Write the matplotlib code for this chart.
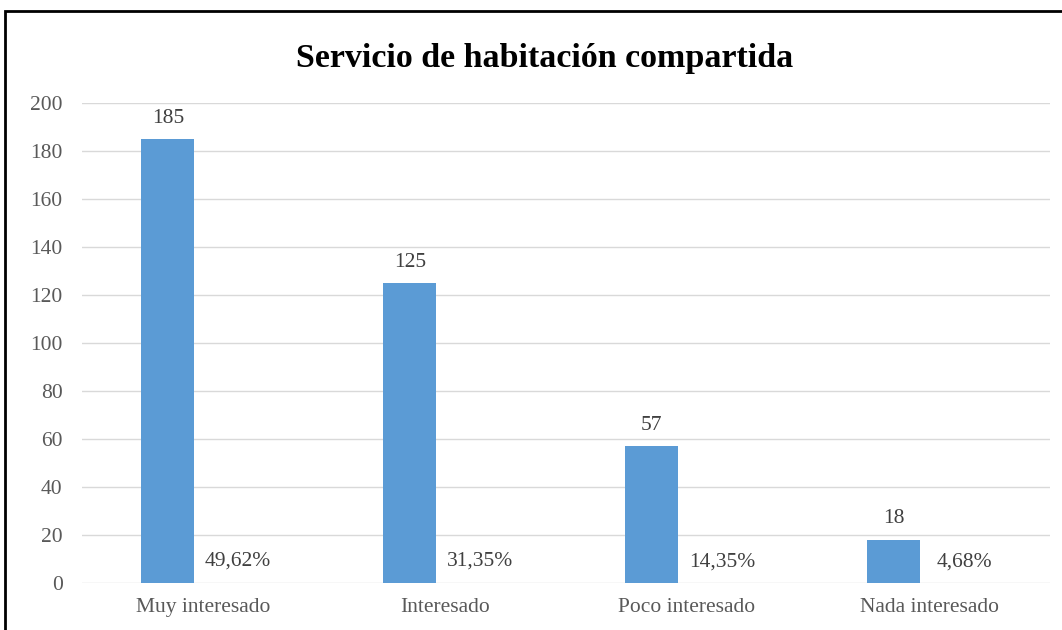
import numpy as np
import matplotlib.pyplot as plt
from matplotlib.patches import Rectangle

categories = ['Muy interesado', 'Interesado', 'Poco interesado', 'Nada interesado']
counts = [185, 125, 57, 18]
percents = [49.62, 31.35, 14.35, 4.68]
yticks = [0, 20, 40, 60, 80, 100, 120, 140, 160, 180, 200]

plt.rcParams['font.family'] = ['Liberation Serif', 'DejaVu Serif']

fig = plt.figure(figsize=(10.62, 6.3), dpi=100)
ax = fig.add_axes([82 / 1062, 1 - 583 / 630, (1050 - 82) / 1062, (583 - 103) / 630])

x = np.arange(len(categories))
w = 0.219
off = 0.145
blue = '#5B9BD5'
grey = '#595959'
fs = 15.5

b1 = ax.bar(x - off, counts, width=w, color=blue, zorder=3)
# percentage series: invisible bars on the baseline, only their labels show
b2 = ax.bar(x + off, [p / 100 for p in percents], width=w, color='none', zorder=3)

for rect, v in zip(b1, counts):
    ax.annotate(str(v), (rect.get_x() + rect.get_width() / 2, rect.get_height()),
                xytext=(0, 15), textcoords='offset points', ha='center', va='center',
                fontsize=fs, color='#404040')
for rect, p in zip(b2, percents):
    ax.annotate(f'{p:.2f}%'.replace('.', ','), (rect.get_x() + rect.get_width() / 2, rect.get_height()),
                xytext=(0, 15), textcoords='offset points', ha='center', va='center',
                fontsize=fs, color='#404040')

ax.set_xlim(-0.5, len(categories) - 0.5)
ax.set_ylim(0, 200)
ax.set_yticks(yticks)
ax.set_xticks(x)
ax.set_xticklabels(categories)
ax.grid(axis='y', color='#d9d9d9', linewidth=1, zorder=0)
for s in ax.spines.values():
    s.set_visible(False)
ax.tick_params(axis='y', length=0, pad=14, labelsize=fs, labelcolor=grey)
ax.tick_params(axis='x', length=0, pad=11, labelsize=fs, labelcolor=grey)

fig.text(0.513, 1 - 67 / 630, 'Servicio de habitación compartida', ha='center', va='baseline',
         fontsize=24.5, fontweight='bold', color='black')

fig.patches.append(Rectangle((5 / 1062, -0.02), 1.05, 1 - 11 / 630 + 0.02,
                             transform=fig.transFigure, fill=False, edgecolor='black',
                             linewidth=2))

fig.savefig('out.png', dpi=100)
